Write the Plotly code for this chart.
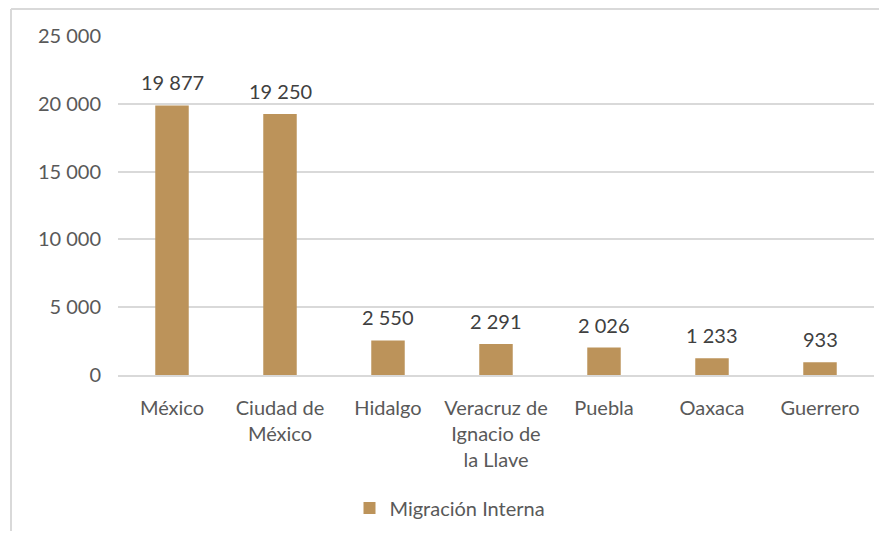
import plotly.graph_objects as go

categories = ["México", "Ciudad de<br>México", "Hidalgo", "Veracruz de<br>Ignacio de<br>la Llave",
              "Puebla", "Oaxaca", "Guerrero"]
values = [19877, 19250, 2550, 2291, 2026, 1233, 933]
series_name = "Migración Interna"
y_ticks = [0, 5000, 10000, 15000, 20000, 25000]

# page body has an 8px margin; work in reference-pixel coordinates and shift
OFF = 8
W, H = 887 - 2 * OFF, 539 - 2 * OFF
PL, PR, PT, PB = 118, 874, 36, 375           # plot area in reference pixels
ML, MT = PL - OFF, PT - OFF
MR = W - (PR - OFF)
MB = H - (PB - OFF)
PW, PH = PR - PL, PB - PT

bar_color = "#BC935A"
font_family = "Lato, Open Sans, sans-serif"

def fmt(v):
    return f"{v:,}".replace(",", " ")

def px_to_paper_x(px):
    return (px - PL) / PW

def px_to_paper_y(py):
    return (PB - py) / PH

fig = go.Figure()
fig.add_trace(go.Bar(
    x=categories, y=values, name=series_name,
    marker=dict(color=bar_color, line=dict(width=0)),
    width=0.31, showlegend=True,
))

annotations = [
    dict(x=c, y=v, xref="x", yref="y", text=fmt(v), showarrow=False,
         yanchor="bottom", yshift=9, font=dict(size=20, color="#404040", family=font_family))
    for c, v in zip(categories, values)
]

shapes = [
    dict(type="line", xref="paper", yref="paper",
         x0=px_to_paper_x(11), x1=px_to_paper_x(900),
         y0=px_to_paper_y(9), y1=px_to_paper_y(9),
         line=dict(color="#D9D9D9", width=2)),
    dict(type="line", xref="paper", yref="paper",
         x0=px_to_paper_x(11), x1=px_to_paper_x(11),
         y0=px_to_paper_y(9), y1=px_to_paper_y(560),
         line=dict(color="#D9D9D9", width=2)),
]

fig.update_layout(
    width=W, height=H,
    margin=dict(l=ML, r=MR, t=MT, b=MB, autoexpand=False),
    paper_bgcolor="white", plot_bgcolor="white",
    font=dict(family=font_family, size=20, color="#595959"),
    annotations=annotations,
    shapes=shapes,
    legend=dict(orientation="h", x=px_to_paper_x(450), xanchor="center",
                y=px_to_paper_y(508), yanchor="middle",
                font=dict(size=20, color="#595959", family=font_family),
                itemwidth=30),
    xaxis=dict(showgrid=False, showline=True, linecolor="#D9D9D9", linewidth=2,
               ticks="", ticklabelstandoff=14, tickfont=dict(size=20)),
    yaxis=dict(range=[0, 25000], tickvals=y_ticks, ticktext=[fmt(t) for t in y_ticks],
               showgrid=True, gridcolor="#D9D9D9", gridwidth=1.5, zeroline=False,
               showline=False, ticks="", ticklabelstandoff=16, tickfont=dict(size=20)),
)

fig.write_html("out.html")
